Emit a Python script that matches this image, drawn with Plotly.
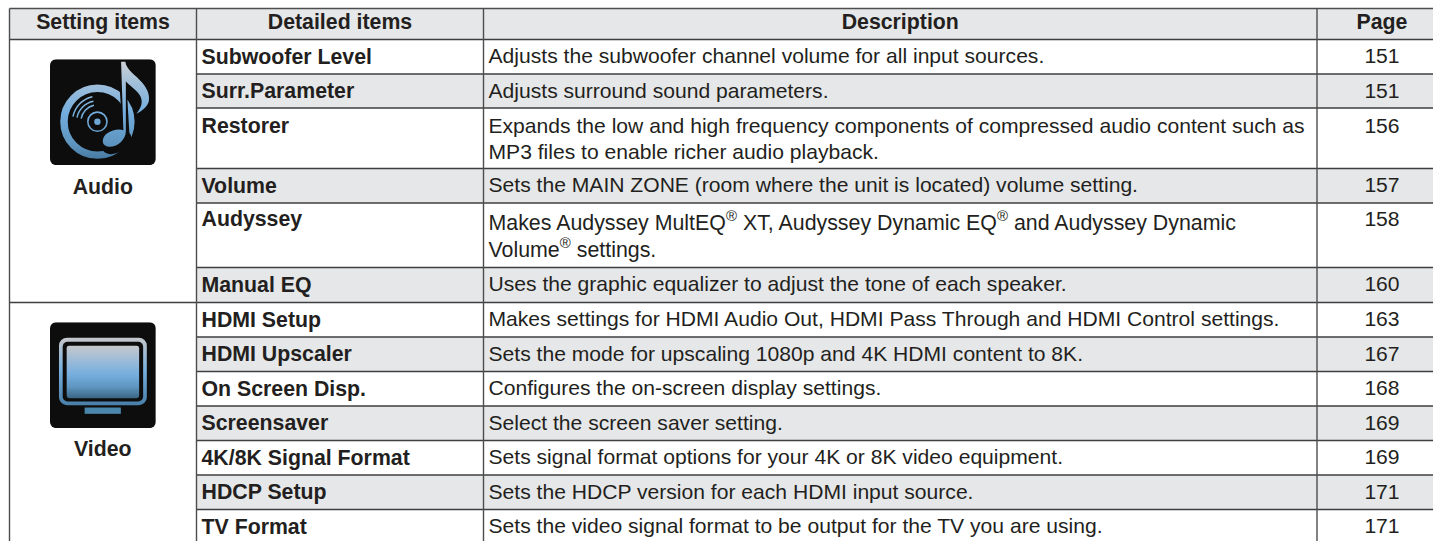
import base64
import plotly.graph_objects as go

# ---- table content ----
headers = ["Setting items", "Detailed items", "Description", "Page"]
setting_items = ["Audio", "Video"]
detailed_items = [
    "Subwoofer Level", "Surr.Parameter", "Restorer", "Volume", "Audyssey", "Manual EQ",
    "HDMI Setup", "HDMI Upscaler", "On Screen Disp.", "Screensaver",
    "4K/8K Signal Format", "HDCP Setup", "TV Format",
]
descriptions = [
    ["Adjusts the subwoofer channel volume for all input sources."],
    ["Adjusts surround sound parameters."],
    ["Expands the low and high frequency components of compressed audio content such as",
     "MP3 files to enable richer audio playback."],
    ["Sets the MAIN ZONE (room where the unit is located) volume setting."],
    ["Makes Audyssey MultEQ<sup>®</sup> XT, Audyssey Dynamic EQ<sup>®</sup> and Audyssey Dynamic",
     "Volume<sup>®</sup> settings."],
    ["Uses the graphic equalizer to adjust the tone of each speaker."],
    ["Makes settings for HDMI Audio Out, HDMI Pass Through and HDMI Control settings."],
    ["Sets the mode for upscaling 1080p and 4K HDMI content to 8K."],
    ["Configures the on-screen display settings."],
    ["Select the screen saver setting."],
    ["Sets signal format options for your 4K or 8K video equipment."],
    ["Sets the HDCP version for each HDMI input source."],
    ["Sets the video signal format to be output for the TV you are using."],
]
pages = ["151", "151", "156", "157", "158", "160", "163", "167", "168", "169", "169", "171", "171"]
group_sizes = [6, 7]

# ---- layout constants ----
W, H = 1433, 541
COL_X = [9.5, 196.5, 483.5, 1317, W]
HEAD_TOP, HEAD_BOTTOM = 8.5, 39.5
ROW_BOTTOM = [74, 108, 168.5, 203, 267.5, 302.5, 337, 371.5, 406, 440.5, 475, 509.5, H + 2]
INK, H_LINE, V_LINE, GREY = "#231f20", "#3f3f3f", "#4d4d4d", "#e6e7e8"
FONT = "Liberation Sans"
SIZE_B, SIZE_R = 21.3, 21.1
PAGE_CX = 1382
FIRST_LINE = 18.7
ROW_EXTRA = {2: 0.8, 4: -0.7}       # rows whose text sits off the common offset
DESC_EXTRA = {2: 0.8, 4: 2.5}       # description first-line shift in two-line rows
DESC_STEP = {2: 26.0, 4: 27.0}      # line pitch in two-line rows


def svg_uri(body, w, h):
    svg = f'<svg xmlns="http://www.w3.org/2000/svg" viewBox="0 0 {w} {h}" width="{w}" height="{h}">{body}</svg>'
    return "data:image/svg+xml;base64," + base64.b64encode(svg.encode()).decode()


audio_svg = """
<defs><linearGradient id="g" gradientUnits="userSpaceOnUse" x1="0" y1="0" x2="0" y2="106">
<stop offset="0" stop-color="#d3d3d6"/><stop offset=".22" stop-color="#a3c0da"/>
<stop offset=".5" stop-color="#74aede"/><stop offset=".8" stop-color="#5d94bf"/>
<stop offset="1" stop-color="#3f6f95"/></linearGradient></defs>
<rect width="106" height="106" rx="6" fill="#0d0d0d"/>
<circle cx="47.5" cy="62.5" r="33.5" fill="none" stroke="url(#g)" stroke-width="7.5"/>
<circle cx="47.5" cy="62.5" r="9.6" fill="none" stroke="url(#g)" stroke-width="1.6"/>
<circle cx="47.5" cy="62.5" r="3.2" fill="url(#g)"/>
<g fill="none" stroke="url(#g)" stroke-width="1.5">
<path d="M31.2 59.5A17 17 0 0 1 44 46"/><path d="M27 58.5A21 21 0 0 1 43.5 42"/><path d="M23 57.5A25.5 25.5 0 0 1 42.5 37.5"/></g>
<path d="M54 89a14 8.5 -30 1 0 24 -14a14 8.5 -30 1 0 -24 14z" fill="#0d0d0d" stroke="#0d0d0d" stroke-width="4"/>
<path d="M72 5L76 74" stroke="#0d0d0d" stroke-width="7"/>
<path d="M71.2 2.5L75.5 2.5C76 10 86 16 92 23C98 30 100 36 99 42C98 47 92 52 86.5 54.5C91 49 94 43 90 36C86 30 79 26 76 22L76 72C76 80 68 88 59 87.5C52 87 51 80 56 75C61 71 69 69 73.5 71Z" fill="url(#g)"/>
"""

video_svg = """
<defs><linearGradient id="f" gradientUnits="userSpaceOnUse" x1="0" y1="15" x2="0" y2="83">
<stop offset="0" stop-color="#c7c8cb"/><stop offset=".5" stop-color="#76aede"/>
<stop offset="1" stop-color="#4a7fa8"/></linearGradient>
<linearGradient id="s" gradientUnits="userSpaceOnUse" x1="0" y1="23" x2="0" y2="76">
<stop offset="0" stop-color="#c8c8cb"/><stop offset=".28" stop-color="#9dbcd8"/>
<stop offset=".55" stop-color="#76aede"/><stop offset=".78" stop-color="#5f97c2"/>
<stop offset="1" stop-color="#3b6584"/></linearGradient></defs>
<rect width="106" height="106" rx="6" fill="#0d0d0d"/>
<rect x="9" y="15.4" width="88" height="67.6" rx="8" fill="url(#f)"/>
<rect x="12.7" y="19.4" width="80.6" height="60" rx="5" fill="#0d0d0d"/>
<rect x="16.7" y="23.4" width="72.6" height="52.6" rx="2.5" fill="url(#s)"/>
<rect x="34.7" y="85.4" width="36.3" height="6.3" fill="#4a86ab"/>
"""

shapes = []


def rect(x0, x1, y0, y1, fill):
    shapes.append(dict(type="rect", xref="x", yref="y", x0=x0, x1=x1, y0=y0, y1=y1,
                       fillcolor=fill, line_width=0, layer="below"))


def line(x0, x1, y0, y1, color=H_LINE, width=1.3):
    shapes.append(dict(type="line", xref="x", yref="y", x0=x0, x1=x1, y0=y0, y1=y1,
                       line=dict(color=color, width=width), layer="below"))


# header band and alternating row bands
rect(COL_X[0], COL_X[-1], HEAD_TOP, HEAD_BOTTOM, GREY)
row_tops = [HEAD_BOTTOM] + ROW_BOTTOM[:-1]
start = 0
for size in group_sizes:
    for i in range(start, start + size):
        if (i - start) % 2 == 1:
            rect(COL_X[1], COL_X[-1], row_tops[i], ROW_BOTTOM[i], GREY)
    start += size

# rules
line(COL_X[0], COL_X[-1], HEAD_TOP, HEAD_TOP, V_LINE, 1.6)
line(COL_X[0], COL_X[-1], HEAD_BOTTOM, HEAD_BOTTOM)
start = 0
for size in group_sizes:
    for i in range(start, start + size):
        x_from = COL_X[0] if i == start + size - 1 else COL_X[1]
        line(x_from, COL_X[-1], ROW_BOTTOM[i], ROW_BOTTOM[i])
    start += size
for x in COL_X[:-1]:
    line(x, x, HEAD_TOP, H + 2, V_LINE, 1.4)

fig = go.Figure()


def add_text(xs, ys, texts, pos, size, bold=False):
    fig.add_trace(go.Scatter(
        x=xs, y=ys, text=texts, mode="text", textposition=pos, hoverinfo="skip", showlegend=False,
        textfont=dict(family=FONT, size=size, color=INK, weight=700 if bold else 400),
    ))


# header row
hy = 23.5
head_x = [(COL_X[0] + COL_X[1]) / 2, (COL_X[1] + COL_X[2]) / 2, (COL_X[2] + COL_X[3]) / 2, PAGE_CX]
add_text(head_x, [hy] * 4, headers, "middle center", SIZE_B, True)

# body
first_y = [t + FIRST_LINE + ROW_EXTRA.get(i, 0) for i, t in enumerate(row_tops)]
add_text([COL_X[1] + 5] * len(detailed_items), first_y, detailed_items, "middle right", SIZE_B, True)
dx, dy, dt, ds = [], [], [], []
for i, (top, lines) in enumerate(zip(row_tops, descriptions)):
    y0 = top + FIRST_LINE + DESC_EXTRA.get(i, 0)
    for k, s in enumerate(lines):
        dx.append(COL_X[2] + 5)
        dy.append(y0 + k * DESC_STEP.get(i, 0))
        dt.append(s)
        ds.append(SIZE_R * 1.013 if "<sup>" in s else SIZE_R)
add_text(dx, dy, dt, "middle right", ds)
add_text([PAGE_CX] * len(pages), first_y, pages, "middle center", SIZE_R)

# group labels
add_text([102.8, 102.8], [188.5, 450.5], setting_items, "middle center", SIZE_B, True)

images = [
    dict(source=svg_uri(audio_svg, 106, 106), xref="x", yref="y", x=50, y=59.3, sizex=105.8, sizey=105.8,
         xanchor="left", yanchor="top", sizing="stretch", layer="above"),
    dict(source=svg_uri(video_svg, 106, 106), xref="x", yref="y", x=50, y=322.3, sizex=105.8, sizey=105.8,
         xanchor="left", yanchor="top", sizing="stretch", layer="above"),
]

fig.update_layout(
    width=W, height=H, margin=dict(l=0, r=0, t=0, b=0), autosize=False,
    paper_bgcolor="white", plot_bgcolor="white", shapes=shapes, images=images, showlegend=False,
    xaxis=dict(range=[0, W], visible=False, fixedrange=True),
    yaxis=dict(range=[H, 0], visible=False, fixedrange=True),
)
fig.write_html("out.html", config=dict(displayModeBar=False, responsive=False),
               post_script="document.body.style.margin='0';document.documentElement.style.overflow='hidden';")
